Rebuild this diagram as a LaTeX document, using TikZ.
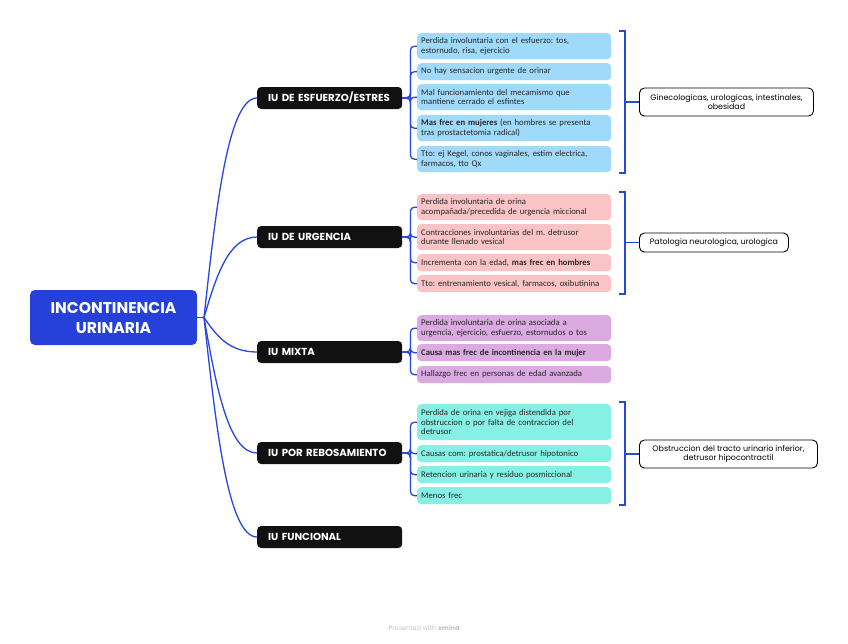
\documentclass[tikz,border=0pt]{standalone}
\usepackage{fontspec}
\setmainfont{Poppins}
\newfontfamily\leaffont{Carlito}
\usetikzlibrary{calc}
\frenchspacing
\definecolor{rootblue}{RGB}{37,65,218}
\definecolor{linkblue}{RGB}{40,70,225}
\definecolor{lblue}{RGB}{160,218,250}
\definecolor{lred}{RGB}{250,196,198}
\definecolor{lpurple}{RGB}{218,170,225}
\definecolor{lteal}{RGB}{135,240,228}
\definecolor{bblack}{RGB}{17,17,17}
\definecolor{foot}{RGB}{195,195,195}
\begin{document}
\begin{tikzpicture}[x=1pt,y=-1pt,
  root/.style={fill=rootblue, text=white, rounded corners=5pt, minimum width=167pt, minimum height=55pt, align=center, inner sep=0pt, font=\bfseries\fontsize{15.6}{20}\selectfont},
  branch/.style={anchor=west, fill=bblack, text=white, rounded corners=4pt, minimum height=22pt, text width=123pt, inner xsep=11pt, inner ysep=0pt, align=left, font=\bfseries\fontsize{10.2}{12}\selectfont},
  leaf/.style={anchor=north west, rounded corners=4pt, text width=186pt, inner xsep=4pt, inner ysep=0pt, align=left, text=black!85, font=\leaffont\fontsize{8.7}{9.5}\selectfont},
  summ/.style={anchor=west, draw=black, line width=0.9pt, fill=white, rounded corners=5pt, align=center, inner xsep=6pt, inner ysep=0pt, font=\fontsize{7.9}{9.5}\selectfont},
  link/.style={draw=linkblue, line width=1.3pt},
  brk/.style={draw=linkblue, line width=1.6pt}
]
\useasboundingbox (0,0) rectangle (848,643);
\fill[white] (0,0) rectangle (848,643);

% root
\node[root] (root) at (113.5,317.5) {INCONTINENCIA\\URINARIA};
\coordinate (J) at (204,317.5);

% branches
\node[branch] (b1) at (257,98) {IU DE ESFUERZO/ESTRES};
\node[branch] (b2) at (257,237) {IU DE URGENCIA};
\node[branch] (b3) at (257,352) {IU MIXTA};
\node[branch] (b4) at (257,453) {IU POR REBOSAMIENTO};
\node[branch] (b5) at (257,537) {IU FUNCIONAL};

\draw[link] (root.east) -- (J);
\draw[link] (J) .. controls ($(J)!0.5!(228,98)$) and (228,98) .. (b1.west);
\draw[link] (J) .. controls ($(J)!0.5!(228,237)$) and (228,237) .. (b2.west);
\draw[link] (J) .. controls ($(J)!0.5!(228,352)$) and (228,352) .. (b3.west);
\draw[link] (J) .. controls ($(J)!0.5!(228,453)$) and (228,453) .. (b4.west);
\draw[link] (J) .. controls ($(J)!0.5!(228,537)$) and (228,537) .. (b5.west);

% blue leaves
\node[leaf, fill=lblue, minimum height=26pt] (l11) at (417,33) {Perdida involuntaria con el esfuerzo: tos,\\estornudo, risa, ejercicio};
\node[leaf, fill=lblue, minimum height=17pt] (l12) at (417,63) {No hay sensacion urgente de orinar};
\node[leaf, fill=lblue, minimum height=26pt] (l13) at (417,84) {Mal funcionamiento del mecamismo que\\mantiene cerrado el esfintes};
\node[leaf, fill=lblue, minimum height=26pt] (l14) at (417,115) {\textbf{Mas frec en mujeres} (en hombres se presenta\\tras prostactetomia radical)};
\node[leaf, fill=lblue, minimum height=26pt] (l15) at (417,146) {Tto: ej Kegel, conos vaginales, estim electrica,\\farmacos, tto Qx};

% red leaves
\node[leaf, fill=lred, minimum height=26pt] (l21) at (417,194) {Perdida involuntaria de orina\\acompañada/precedida de urgencia miccional};
\node[leaf, fill=lred, minimum height=26pt] (l22) at (417,224) {Contracciones involuntarias del m. detrusor\\durante llenado vesical};
\node[leaf, fill=lred, minimum height=17pt] (l23) at (417,254) {Incrementa con la edad, \textbf{mas frec en hombres}};
\node[leaf, fill=lred, minimum height=17pt] (l24) at (417,275) {Tto: entrenamiento vesical, farmacos, oxibutinina};

% purple leaves
\node[leaf, fill=lpurple, minimum height=26pt] (l31) at (417,315) {Perdida involuntaria de orina asociada a\\urgencia, ejercicio, esfuerzo, estornudos o tos};
\node[leaf, fill=lpurple, minimum height=17pt] (l32) at (417,344) {\textbf{Causa mas frec de incontinencia en la mujer}};
\node[leaf, fill=lpurple, minimum height=17pt] (l33) at (417,366) {Hallazgo frec en personas de edad avanzada};

% teal leaves
\node[leaf, fill=lteal, minimum height=36pt] (l41) at (417,404) {Perdida de orina en vejiga distendida por\\obstruccion o por falta de contraccion del\\detrusor};
\node[leaf, fill=lteal, minimum height=17pt] (l42) at (417,445) {Causas com: prostatica/detrusor hipotonico};
\node[leaf, fill=lteal, minimum height=17pt] (l43) at (417,466) {Retencion urinaria y residuo posmiccional};
\node[leaf, fill=lteal, minimum height=17pt] (l44) at (417,487) {Menos frec};

% branch -> leaf connectors
\foreach \l in {l11,l12,l13,l14,l15}{\draw[link, rounded corners=4pt] (b1.east) -- ++(8,0) |- (\l.west);}
\foreach \l in {l21,l22,l23,l24}{\draw[link, rounded corners=4pt] (b2.east) -- ++(8,0) |- (\l.west);}
\foreach \l in {l31,l32,l33}{\draw[link, rounded corners=4pt] (b3.east) -- ++(8,0) |- (\l.west);}
\foreach \l in {l41,l42,l43,l44}{\draw[link, rounded corners=4pt] (b4.east) -- ++(8,0) |- (\l.west);}

% summaries
\node[summ, minimum width=174pt, minimum height=28pt] (s1) at (639,102) {Ginecologicas, urologicas, intestinales,\\obesidad};
\node[summ, minimum width=149pt, minimum height=19pt] (s2) at (639,242.5) {Patologia neurologica, urologica};
\node[summ, minimum width=178pt, minimum height=28pt] (s4) at (639,454) {Obstruccion del tracto urinario inferior,\\detrusor hipocontractil};

% brackets
\coordinate (k1a) at (619,31); \coordinate (k1b) at (625,31);
\coordinate (k1c) at (625,173); \coordinate (k1d) at (619,173);
\coordinate (k1m) at (625,102);
\draw[brk] (k1a) -- (k1b) -- (k1c) -- (k1d);
\draw[brk] (k1m) -- (s1.west);

\coordinate (k2a) at (619,192); \coordinate (k2b) at (625,192);
\coordinate (k2c) at (625,294); \coordinate (k2d) at (619,294);
\coordinate (k2m) at (625,242.5);
\draw[brk] (k2a) -- (k2b) -- (k2c) -- (k2d);
\draw[brk] (k2m) -- (s2.west);

\coordinate (k4a) at (619,402); \coordinate (k4b) at (625,402);
\coordinate (k4c) at (625,505); \coordinate (k4d) at (619,505);
\coordinate (k4m) at (625,454);
\draw[brk] (k4a) -- (k4b) -- (k4c) -- (k4d);
\draw[brk] (k4m) -- (s4.west);

% footer
\node[text=foot, font=\fontsize{6.5}{8}\selectfont] (foot) at (424,628) {Presented with \textbf{xmind}};
\end{tikzpicture}
\end{document}
